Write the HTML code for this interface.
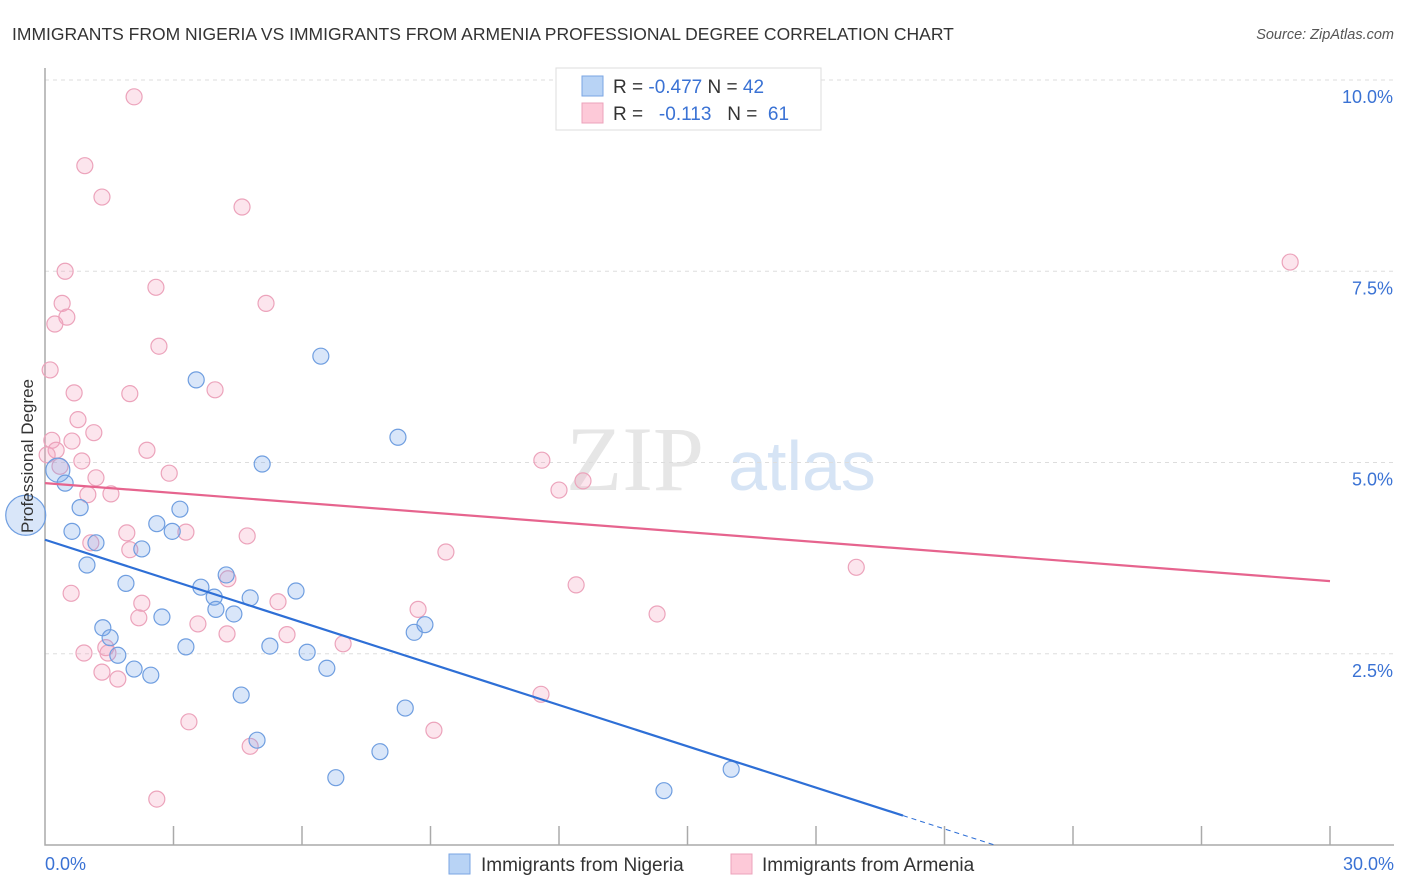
<!DOCTYPE html>
<html><head><meta charset="utf-8"><style>
body{margin:0;background:#fff;font-family:"Liberation Sans",sans-serif;}
svg{display:block}
</style></head><body>
<svg id="chart" width="1406" height="892" xmlns="http://www.w3.org/2000/svg">
<text x="12" y="40" font-size="17.5" fill="#333">IMMIGRANTS FROM NIGERIA VS IMMIGRANTS FROM ARMENIA PROFESSIONAL DEGREE CORRELATION CHART</text>
<text x="1394" y="39" font-size="14.5" fill="#555" font-style="italic" text-anchor="end">Source: ZipAtlas.com</text>
<g>
<text x="635" y="490" font-size="92" fill="#e6e6e6" font-family="Liberation Serif,serif" text-anchor="middle">ZIP</text>
<text x="802" y="490" font-size="70" fill="#d6e4f5" text-anchor="middle">atlas</text>
</g>
<g id="grid"></g>
<g id="axes"></g>
<g id="marks"></g>
<text transform="translate(33,456) rotate(-90)" font-size="17" fill="#333" text-anchor="middle">Professional Degree</text>
<g>
<rect x="556" y="68" width="265" height="62" fill="#fff" stroke="#ddd"/>
<rect x="582" y="76" width="21" height="20" fill="#b8d3f5" stroke="#7aa6e3"/>
<rect x="582" y="103" width="21" height="20" fill="#fdc9d8" stroke="#eca3bb"/>
<text x="613" y="93" font-size="19" fill="#333">R = <tspan fill="#3a72d4">-0.477</tspan>   N = <tspan fill="#3a72d4">42</tspan></text>
<text x="613" y="120" font-size="19" fill="#333" xml:space="preserve">R =  <tspan fill="#3a72d4"> -0.113</tspan>   N =  <tspan fill="#3a72d4">61</tspan></text>
</g>
<g>
<rect x="449" y="854" width="21" height="20" fill="#b8d3f5" stroke="#7aa6e3"/>
<text x="481" y="871" font-size="19" fill="#333">Immigrants from Nigeria</text>
<rect x="731" y="854" width="21" height="20" fill="#fdc9d8" stroke="#eca3bb"/>
<text x="762" y="871" font-size="19" fill="#333">Immigrants from Armenia</text>
</g>
</svg>
<script>
const nigeriaX=[-0.45,0.30,0.47,0.82,0.63,1.19,0.98,2.26,1.89,1.35,1.52,1.70,2.08,2.47,2.73,2.61,2.97,3.15,3.53,3.29,3.64,3.95,3.99,4.23,4.41,4.79,4.58,4.95,5.07,5.25,5.86,6.12,6.44,6.58,6.79,7.82,8.24,8.41,8.62,8.87,14.45,16.02];
const nigeriaY=[4.31,4.90,4.73,4.41,4.10,3.95,3.66,3.87,3.42,2.84,2.71,2.48,2.30,2.22,2.98,4.20,4.10,4.39,6.08,2.59,3.37,3.24,3.08,3.53,3.02,3.23,1.96,1.37,4.98,2.60,3.32,2.52,6.39,2.31,0.88,1.22,5.33,1.79,2.78,2.88,0.71,0.99];
const nigeriaR=[20,12,8,8,8,8,8,8,8,8,8,8,8,8,8,8,8,8,8,8,8,8,8,8,8,8,8,8,8,8,8,8,8,8,8,8,8,8,8,8,8,8];
const armeniaX=[2.08,0.93,1.33,4.60,0.47,29.07,2.59,0.40,5.16,0.51,0.23,2.66,0.12,0.68,1.98,3.97,0.77,1.14,0.16,0.63,0.26,2.38,0.86,0.35,2.90,1.19,1.00,1.54,11.60,12.00,12.56,1.91,3.29,1.07,1.98,4.72,9.36,0.61,18.94,4.27,12.40,2.26,5.44,2.19,3.57,8.71,14.29,4.25,5.65,6.96,0.91,1.42,1.47,1.33,1.70,11.58,3.36,9.08,4.79,2.61,0.05];
const armeniaY=[9.78,8.88,8.47,8.34,7.50,7.62,7.29,7.08,7.08,6.90,6.81,6.52,6.21,5.91,5.90,5.95,5.56,5.39,5.29,5.28,5.16,5.16,5.02,4.95,4.86,4.80,4.58,4.59,5.03,4.64,4.76,4.08,4.09,3.95,3.86,4.04,3.83,3.29,3.63,3.48,3.40,3.16,3.18,2.97,2.89,3.08,3.02,2.76,2.75,2.63,2.51,2.58,2.51,2.26,2.17,1.97,1.61,1.50,1.29,0.60,5.10];
const nigeriaTrend=[3.99,-0.18];
const armeniaTrend=[4.73,-0.0427];
const yTicks=[2.5,5.0,7.5,10.0];
const xTickLabels=["0.0%","30.0%"];
const NS="http://www.w3.org/2000/svg";
const X0=45,X1=1330,Y0=845,Y10=80;
const sx=v=>X0+(X1-X0)*v/30;
const sy=v=>Y0-(Y0-Y10)*v/10;
function mk(tag,attrs,parent){const e=document.createElementNS(NS,tag);for(const k in attrs)e.setAttribute(k,attrs[k]);parent.appendChild(e);return e;}
const grid=document.getElementById('grid'),axes=document.getElementById('axes'),marks=document.getElementById('marks');
yTicks.forEach(t=>{
 const l=mk('line',{x1:X0,x2:1394,y1:sy(t),y2:sy(t),stroke:'#ddd','stroke-dasharray':'4,4'},grid);
 
 
 const tx=mk('text',{x:1393,y:sy(t)+23,'font-size':18,fill:'#3a72d4','text-anchor':'end'},axes);
 tx.textContent=t.toFixed(1)+'%';
 
 
});
const ax=mk('path',{d:`M${X0} 68 V${Y0} H1394`,stroke:'#aaa',fill:'none','stroke-width':1.5},axes);


for(let i=1;i<=10;i++){
 const t=mk('line',{x1:sx(i*3),x2:sx(i*3),y1:Y0,y2:Y0-19,stroke:'#aaa','stroke-width':1.5},axes);
 
 
}
const xl0=mk('text',{x:45,y:870,'font-size':18,fill:'#3a72d4'},axes);xl0.textContent=xTickLabels[0];


const xl1=mk('text',{x:1394,y:870,'font-size':18,fill:'#3a72d4','text-anchor':'end'},axes);xl1.textContent=xTickLabels[1];


armeniaX.forEach((x,i)=>{
 const c=mk('circle',{cx:sx(x),cy:sy(armeniaY[i]),r:8,fill:'rgba(245,160,190,0.28)',stroke:'#eca3bb','stroke-width':1.2},marks);
 
 
});
nigeriaX.forEach((x,i)=>{
 const c=mk('circle',{cx:sx(x),cy:sy(nigeriaY[i]),r:nigeriaR[i],fill:'rgba(120,165,235,0.28)',stroke:'#6f9ee0','stroke-width':1.2},marks);
 
 
});
const ny=x=>nigeriaTrend[0]+nigeriaTrend[1]*x;
const xEnd=20.03,xZero=-nigeriaTrend[0]/nigeriaTrend[1];
const nl=mk('line',{x1:sx(0),y1:sy(ny(0)),x2:sx(xEnd),y2:sy(ny(xEnd)),stroke:'#2e6fd6','stroke-width':2.2},marks);


const nd=mk('line',{x1:sx(xEnd),y1:sy(ny(xEnd)),x2:sx(xZero),y2:sy(0),stroke:'#2e6fd6','stroke-width':1,'stroke-dasharray':'5,4'},marks);


const al=mk('line',{x1:sx(0),y1:sy(armeniaTrend[0]),x2:sx(30),y2:sy(armeniaTrend[0]+armeniaTrend[1]*30),stroke:'#e6648e','stroke-width':2.2},marks);


</script>
</body></html>
